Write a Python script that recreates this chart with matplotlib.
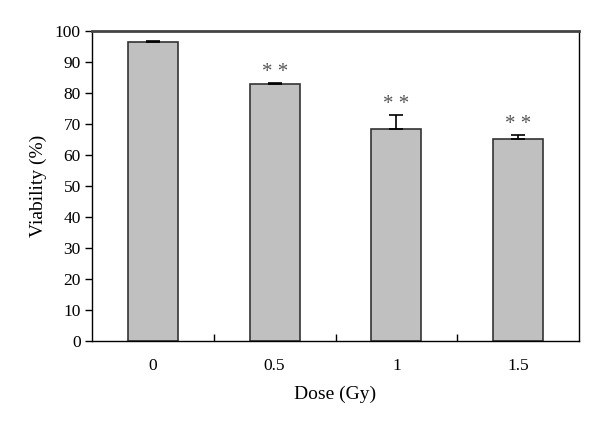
import matplotlib
matplotlib.use("Agg")
import matplotlib.pyplot as plt

# data
doses = ["0", "0.5", "1", "1.5"]
viability = [96.5, 82.9, 68.5, 65.3]
errors = [0.2, 0.4, 4.4, 1.2]
marks = ["", "* *", "* *", "* *"]

plt.rcParams["font.family"] = ["Liberation Serif", "DejaVu Serif"]

fig = plt.figure(figsize=(6, 4.22), dpi=100)
ax = fig.add_axes([92 / 600, 1 - 341 / 422, 487 / 600, 310 / 422])

x = range(len(doses))
ax.bar(x, viability, width=0.41, color="#c0c0c0", edgecolor="#333333", linewidth=1.2,
       yerr=[[0] * len(errors), errors], error_kw=dict(ecolor="black", elinewidth=1.2, capsize=5, capthick=1.2))

# significance stars above the error bars
for i, (v, e, m) in enumerate(zip(viability, errors, marks)):
    if m:
        ax.text(i, v + e + 3.4, m, ha="center", va="center", fontsize=15, color="#555555")

ax.set_xlim(-0.5, 3.5)
ax.set_ylim(0, 100)
ax.set_yticks(range(0, 101, 10))
ax.set_xticks([0.5, 1.5, 2.5])
ax.set_xticklabels([])
ax.set_xticks(list(x), minor=True)
ax.set_xticklabels(doses, minor=True)
ax.tick_params(axis="x", which="minor", length=0, pad=12, labelsize=12.5)
ax.tick_params(axis="x", which="major", direction="in", length=5, width=1)
ax.tick_params(axis="y", direction="out", length=5, width=1, labelsize=12.5, pad=3)

for side in ["left", "bottom", "right"]:
    ax.spines[side].set_color("black")
    ax.spines[side].set_linewidth(1)
ax.spines["top"].set_color("#444444")
ax.spines["top"].set_linewidth(2)

ax.set_xlabel("Dose (Gy)", fontsize=14, labelpad=9)
ax.set_ylabel("Viability (%)", fontsize=14, labelpad=6)

plt.savefig("out.png")
